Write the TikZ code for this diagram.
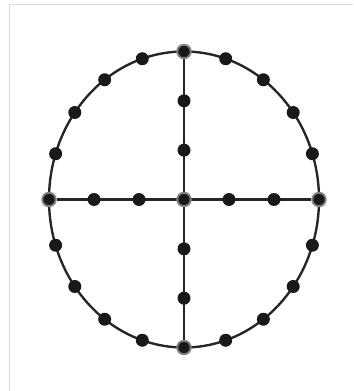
\documentclass[tikz,border=0pt]{standalone}
\usepackage{tikz}
\usetikzlibrary{backgrounds,calc}

\tikzset{
  dot/.style={circle, fill=black!90, inner sep=0pt, minimum size=0.26cm},
  hub/.style={dot, draw=black!50, line width=1.1pt, minimum size=0.27cm},
  rim/.style={black!85, line width=1.35pt},
  spoke/.style={black!85, line width=1.35pt},
  frame/.style={black!15, line width=0.9pt},
}

\begin{document}
\begin{tikzpicture}[x=0.02cm, y=-0.02cm]
  \useasboundingbox (0,0) rectangle (353,391);
  \draw[frame] (9.5,391) -- (9.5,4.5) -- (353,4.5);

  \node[hub] (c) at (184,199.5) {};
  \node[hub] (e) at (319,199.5) {};
  \node[hub] (n) at (184,51.5) {};
  \node[hub] (w) at (49,199.5) {};
  \node[hub] (s) at (184,347.5) {};

  % dots on the rim
  \foreach \q in {0,5,10,15}
    \foreach \j in {1,...,4} {
      \pgfmathtruncatemacro{\i}{\q+\j}
      \node[dot] (r\i) at ({184+135*cos(18*\i)}, {199.5-148*sin(18*\i)}) {};
    }

  % dots on the spokes
  \foreach \k in {1,2} {
    \node[dot] (ce\k) at ($(c)!\k/3!(e)$) {};
    \node[dot] (cn\k) at ($(c)!\k/3!(n)$) {};
    \node[dot] (cw\k) at ($(c)!\k/3!(w)$) {};
    \node[dot] (cs\k) at ($(c)!\k/3!(s)$) {};
  }

  \begin{pgfonlayer}{background}
    \draw[rim] (c) ellipse [x radius=135, y radius=148];
    \draw[spoke] (w) -- (e);
    \draw[spoke] (n) -- (s);
  \end{pgfonlayer}
\end{tikzpicture}
\end{document}
